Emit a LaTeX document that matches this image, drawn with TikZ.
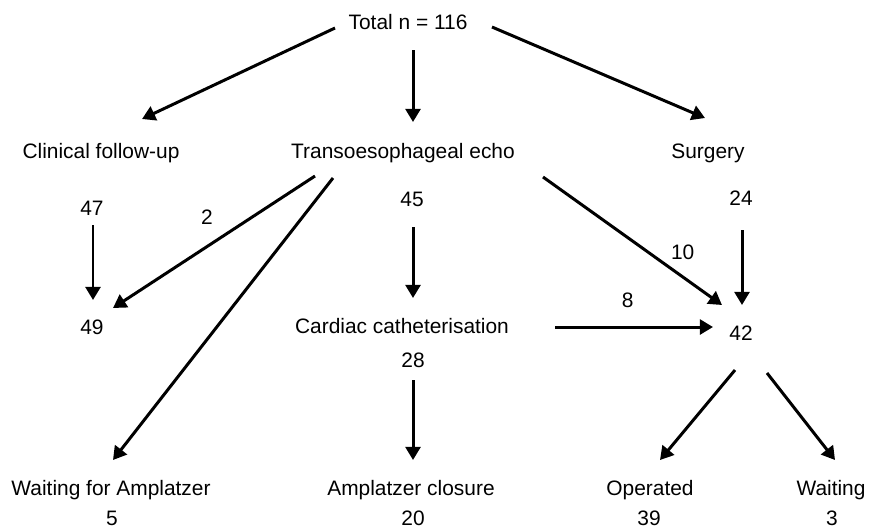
\documentclass[tikz,border=0pt]{standalone}
\usepackage{fontspec}
\setmainfont{Liberation Sans}
\usepackage{tikz}
\usetikzlibrary{arrows.meta}

\begin{document}
\begin{tikzpicture}[
            x=0.02cm, y=-0.02cm,
            txt/.style={inner sep=0pt, text height=8.5pt, text depth=0pt, font=\fontsize{11.9}{14}\selectfont},
            arrow/.style={-{Triangle[length=7.5pt,width=8.5pt]}, line width=1.7pt},
            lbl/.style={txt}
        ]
            \useasboundingbox (0,0) rectangle (884,529);

            % Top level
            \node[txt] (total) at (408,22) {Total n = 116};

            % First split
            \node[txt] (clin) at (101,151) {Clinical follow-up};
            \node[txt] (tee) at (403,151) {Transoesophageal echo};
            \node[txt] (surg) at (708,151) {Surgery};

            % Counts under first split
            \node[txt] (n47) at (92,208) {47};
            \node[txt] (n45) at (412,199) {45};
            \node[txt] (n24) at (741,198) {24};

            % Middle row
            \node[txt] (n49) at (92,327) {49};
            \node[txt] (cath) at (402,326) {Cardiac catheterisation};
            \node[txt] (n42) at (741,333) {42};
            \node[txt] (n28) at (413,360) {28};

            % Outcomes (bottom)
            \node[txt] (wfa) at (111,488) {Waiting for Amplatzer};
            \node[txt] (amp) at (411,488) {Amplatzer closure};
            \node[txt] (oper) at (650,488) {Operated};
            \node[txt] (wait) at (831,488) {Waiting};
            \node[txt] (n5) at (112,518) {5};
            \node[txt] (n20) at (413,518) {20};
            \node[txt] (n39) at (649,518) {39};
            \node[txt] (n3) at (832,518) {3};

            % Arrows from total
            \draw[arrow] ([shift={(-73,6)}]total.center) -- ([shift={(41,-32)}]clin.center);
            \draw[arrow] ([shift={(5,28)}]total.center) -- ([shift={(10,-29)}]tee.center);
            \draw[arrow] ([shift={(84,5)}]total.center) -- ([shift={(-3,-33)}]surg.center);

            % Arrows from echo and follow-up
            \draw[arrow] ([shift={(1,17)}]n47.center) -- ([shift={(1,-27)}]n49.center);
            \draw[arrow] ([shift={(-88,25)}]tee.center) -- node[lbl, pos=0.535, yshift=16.8pt]{2} ([shift={(21,-19)}]n49.center);
            \draw[arrow] ([shift={(-70,27)}]tee.center) -- ([shift={(2,-28)}]wfa.center);
            \draw[arrow] ([shift={(1,28)}]n45.center) -- ([shift={(11,-28)}]cath.center);
            \draw[arrow] ([shift={(140,26)}]tee.center) -- node[lbl, pos=0.78, yshift=14pt]{10} ([shift={(-19,-28)}]n42.center);

            % Arrows into 42 and out of it
            \draw[arrow] ([shift={(1,32)}]n24.center) -- ([shift={(1,-28)}]n42.center);
            \draw[arrow] ([shift={(153,1)}]cath.center) -- node[lbl, pos=0.46, yshift=15.3pt]{8} ([shift={(-28,-6)}]n42.center);
            \draw[arrow] ([shift={(0,20)}]n28.center) -- ([shift={(2,-28)}]amp.center);
            \draw[arrow] ([shift={(-6,37)}]n42.center) -- ([shift={(10,-28)}]oper.center);
            \draw[arrow] ([shift={(26,40)}]n42.center) -- ([shift={(4,-28)}]wait.center);
        \end{tikzpicture}
\end{document}
